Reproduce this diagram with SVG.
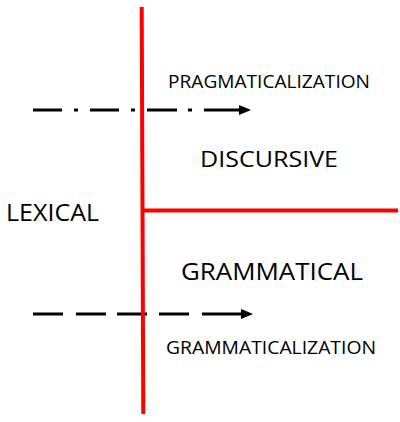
<svg xmlns="http://www.w3.org/2000/svg" width="400" height="422" viewBox="0 0 400 422">
<defs>
<style>
.red{stroke:#ff0000;stroke-width:4;fill:none}
.arr{stroke:#000;stroke-width:3;fill:none}
text{font-family:"Open Sans","Liberation Sans",sans-serif;fill:#000}
</style>
<marker id="ah" markerWidth="12" markerHeight="12" refX="0" refY="6" orient="auto" markerUnits="userSpaceOnUse">
<path d="M0,1 L12,6 L0,11 Z" fill="#000"/>
</marker>
</defs>
<rect width="400" height="422" fill="#fff"/>
<g id="connectors">
<path class="arr" d="M33,110 H62 M74,110 H78 M90,110 H119 M131,110 H135 M147,110 H177 M188,110 H192 M204,110 H233 H239" marker-end="url(#ah)"/>
<path class="arr" d="M33,314 H63 M76,314 H106 M117,314 H147 M159,314 H189 M202,314 H231 H241" marker-end="url(#ah)"/>
</g>
<g id="axes">
<line class="red" x1="141.7" y1="7" x2="143.3" y2="414"/>
<line class="red" x1="144" y1="210.5" x2="398" y2="210.5"/>
</g>
<g id="lexical"><text x="6" y="221" font-size="24.5" textLength="93" lengthAdjust="spacingAndGlyphs">LEXICAL</text></g>
<g id="discursive"><text x="200" y="167" font-size="22.5" textLength="138" lengthAdjust="spacingAndGlyphs">DISCURSIVE</text></g>
<g id="grammatical"><text x="181" y="280" font-size="24" textLength="182" lengthAdjust="spacingAndGlyphs">GRAMMATICAL</text></g>
<g id="pragmaticalization"><text x="168" y="88" font-size="18" textLength="202" lengthAdjust="spacingAndGlyphs">PRAGMATICALIZATION</text></g>
<g id="grammaticalization"><text x="166" y="354" font-size="17.5" textLength="210" lengthAdjust="spacingAndGlyphs">GRAMMATICALIZATION</text></g>
</svg>
